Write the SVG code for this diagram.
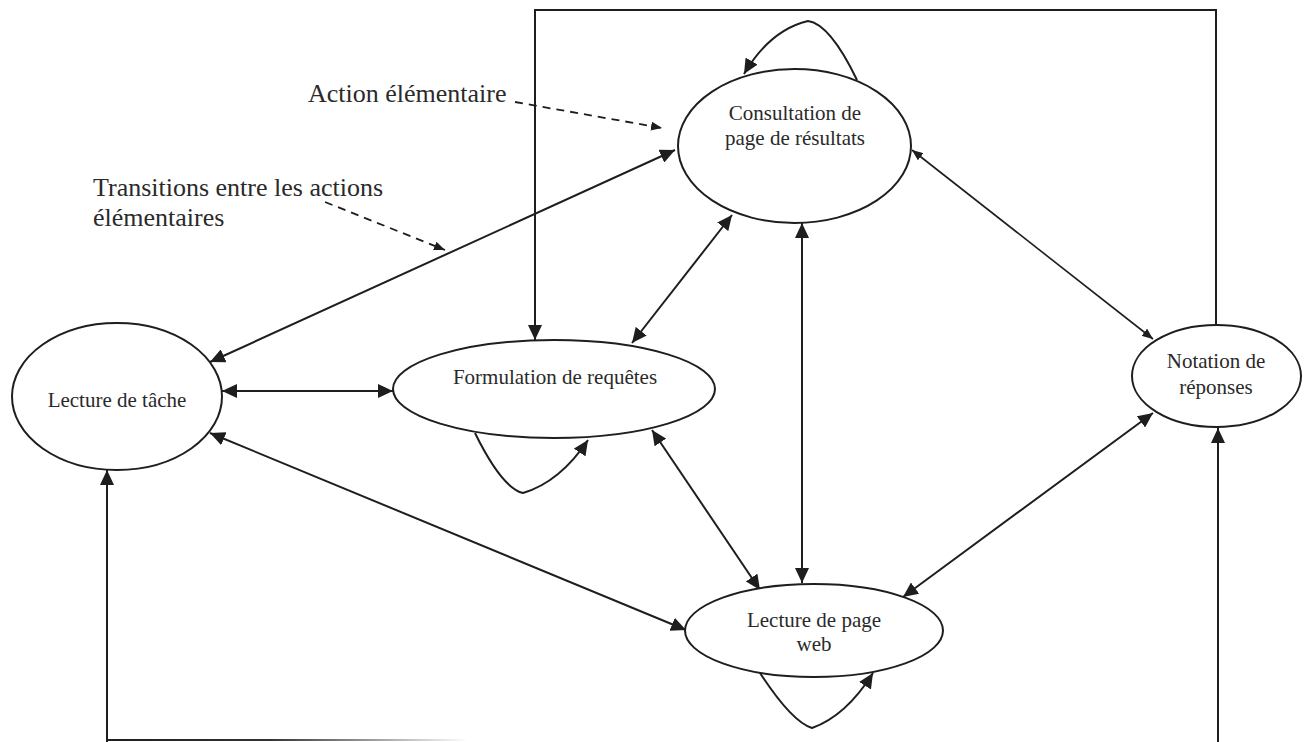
<svg xmlns="http://www.w3.org/2000/svg" width="1309" height="742" viewBox="0 0 1309 742">
<style>
.node{fill:#fff;stroke:#1e1e1e;stroke-width:2}
.nt{font-family:"Liberation Serif","Times New Roman",serif;font-size:21px;fill:#2a2a2a;text-anchor:middle}
.lbl{font-family:"Liberation Serif","Times New Roman",serif;font-size:26px;fill:#2a2a2a}
.c{fill:none;stroke:#1e1e1e;stroke-width:2}
.thin{fill:none;stroke:#1e1e1e;stroke-width:1.6}
.dash{fill:none;stroke:#1e1e1e;stroke-width:1.8;stroke-dasharray:8 6}
</style>
<defs>
<marker id="ah" viewBox="0 0 15 14" refX="15" refY="7" markerWidth="15" markerHeight="14" markerUnits="userSpaceOnUse" orient="auto-start-reverse"><path d="M0,0 L15,7 L0,14 z" fill="#1e1e1e"/></marker>
<marker id="as" viewBox="0 0 11 9" refX="11" refY="4.5" markerWidth="11" markerHeight="9" markerUnits="userSpaceOnUse" orient="auto-start-reverse"><path d="M0,0 L11,4.5 L0,9 z" fill="#1e1e1e"/></marker>
<linearGradient id="fade" gradientUnits="userSpaceOnUse" x1="107" y1="0" x2="468" y2="0"><stop offset="0" stop-color="#1e1e1e"/><stop offset="0.45" stop-color="#333"/><stop offset="1" stop-color="#fff"/></linearGradient>
</defs>

<g id="connectors">
<line class="c" x1="210" y1="362" x2="675" y2="150" marker-start="url(#ah)" marker-end="url(#ah)"/>
<line class="c" x1="222" y1="391" x2="393" y2="391" marker-start="url(#ah)" marker-end="url(#ah)"/>
<line class="c" x1="210" y1="433" x2="686" y2="630" marker-start="url(#ah)" marker-end="url(#ah)"/>
<line class="c" x1="632" y1="343" x2="732" y2="215" marker-start="url(#ah)" marker-end="url(#ah)"/>
<line class="c" x1="652" y1="430" x2="760" y2="590" marker-start="url(#ah)" marker-end="url(#ah)"/>
<line class="c" x1="802" y1="223" x2="802" y2="583" marker-start="url(#ah)" marker-end="url(#ah)"/>
<line class="thin" x1="912" y1="150" x2="1153" y2="339" marker-start="url(#as)" marker-end="url(#as)"/>
<line class="c" x1="1153" y1="413" x2="903" y2="597" marker-start="url(#ah)" marker-end="url(#ah)"/>
<path class="c" d="M1216,325 V10 H535 V340" marker-end="url(#ah)"/>
<line class="c" x1="107" y1="742" x2="107" y2="470" marker-end="url(#ah)"/>
<line x1="107" y1="740" x2="468" y2="740" stroke="url(#fade)" stroke-width="2"/>
<line class="c" x1="1218" y1="742" x2="1218" y2="428" marker-end="url(#ah)"/>
<path class="c" d="M857,80 Q830,24 808,21 Q770,30 744,74" marker-end="url(#ah)"/>
<path class="c" d="M475,433 Q502,488 523,493 Q560,482 588,440" marker-end="url(#ah)"/>
<path class="c" d="M760,673 Q792,722 812,728 Q846,716 873,673" marker-end="url(#ah)"/>
<line class="dash" x1="515" y1="102" x2="662" y2="128" marker-end="url(#as)"/>
<line class="dash" x1="325" y1="202" x2="445" y2="250" marker-end="url(#as)"/>
</g>

<g id="lecture-tache">
<ellipse class="node" cx="117" cy="396.5" rx="105" ry="73.5"/>
<text class="nt" x="117" y="407">Lecture de tâche</text>
</g>
<g id="formulation">
<ellipse class="node" cx="554" cy="389" rx="161" ry="49"/>
<text class="nt" x="555" y="384">Formulation de requêtes</text>
</g>
<g id="consultation">
<ellipse class="node" cx="794.5" cy="146" rx="116.5" ry="77"/>
<text class="nt" x="795" y="120">Consultation de</text>
<text class="nt" x="795" y="145">page de résultats</text>
</g>
<g id="notation">
<ellipse class="node" cx="1216.5" cy="376" rx="84.5" ry="51"/>
<text class="nt" x="1216" y="368">Notation de</text>
<text class="nt" x="1216" y="394">réponses</text>
</g>
<g id="lecture-page">
<ellipse class="node" cx="814" cy="630.5" rx="129" ry="46.5"/>
<text class="nt" x="814" y="627">Lecture de page</text>
<text class="nt" x="814" y="651">web</text>
</g>

<g id="labels">
<text class="lbl" x="308" y="102">Action élémentaire</text>
<text class="lbl" x="93" y="196">Transitions entre les actions</text>
<text class="lbl" x="93" y="226">élémentaires</text>
</g>
</svg>
